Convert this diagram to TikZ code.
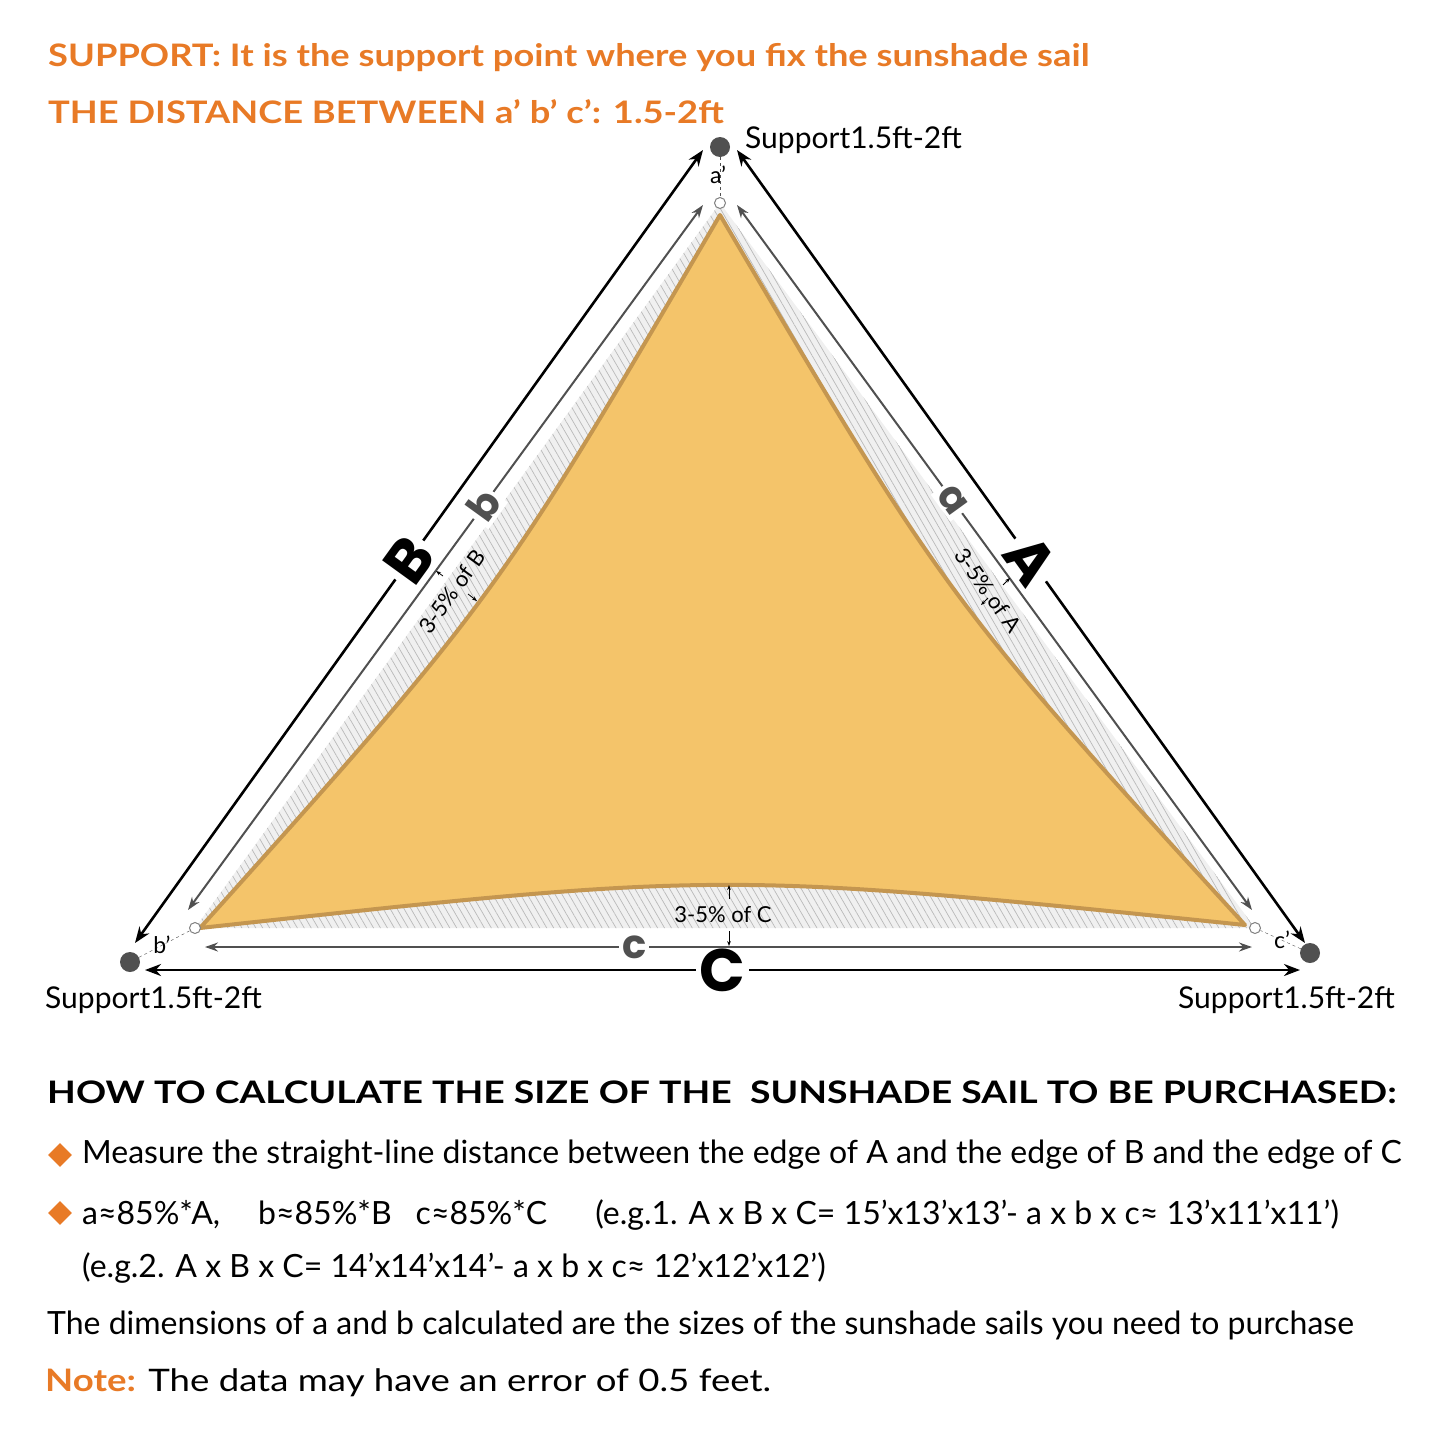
\documentclass[tikz,border=0pt]{standalone}
\usepackage{fontspec}
\setmainfont{Lato}
\newfontfamily\headfont{Poppins}
\usetikzlibrary{patterns.meta,shapes.geometric,arrows.meta}
\definecolor{sunorange}{RGB}{232,122,38}
\definecolor{sailfill}{RGB}{244,196,106}
\definecolor{sailedge}{RGB}{196,150,80}
\definecolor{darkdot}{RGB}{80,80,80}
\tikzset{
  bigarrow/.style={line width=2.6pt,{Stealth[length=16pt,width=12pt]}-{Stealth[length=16pt,width=12pt]}},
  smallarrow/.style={line width=2pt,darkdot,{Stealth[length=13pt,width=9pt]}-{Stealth[length=13pt,width=9pt]}},
  tinyarrow/.style={line width=0.8pt,-{Stealth[length=5pt]}},
  support/.style={circle,fill=darkdot,minimum size=20pt,inner sep=0pt},
  ring/.style={circle,draw=gray,fill=white,line width=1pt,minimum size=11pt,inner sep=0pt},
  biglabel/.style={fill=white,font=\headfont\bfseries\fontsize{60}{60}\selectfont,inner sep=4pt},
  midlabel/.style={fill=white,text=darkdot,font=\headfont\bfseries\fontsize{40}{40}\selectfont,inner sep=3pt},
  note/.style={font=\fontsize{22}{22}\selectfont,inner sep=1pt},
  textline/.style={anchor=west,font=\fontsize{32}{32}\selectfont,inner sep=0pt},
  headline/.style={anchor=west,font=\bfseries\fontsize{31}{31}\selectfont,inner sep=0pt,xscale=1.17},
  bullet/.style={diamond,fill=sunorange,minimum size=24pt,inner sep=0pt}
}
\begin{document}
\begin{tikzpicture}[x=1pt,y=-1pt]
\useasboundingbox (0,0) rectangle (1445,1445);
% headings
\node[headline,text=sunorange] (head1) at (48,58) {SUPPORT: It is the support point where you fix the sunshade sail};
\node[headline,text=sunorange] (head2) at (48,112) {THE DISTANCE BETWEEN a' b' c': 1.5-2ft};
% hatched band and sail
\fill[gray!12] (720,203) -- (195,928) -- (1255,928) -- cycle;
\fill[pattern={Lines[angle=-60,distance=6pt,line width=0.7pt]},pattern color=gray!55] (720,203) -- (195,928) -- (1255,928) -- cycle;
\filldraw[fill=sailfill,draw=sailedge,line width=4pt,line join=round]
  (720,215) .. controls (946,598) .. (1245,925)
  .. controls (722,871) .. (200,928)
  .. controls (496,598) .. cycle;
% supports and rings
\node[support] (sa) at (720,147) {};
\node[support] (sb) at (130,962) {};
\node[support] (sc) at (1310,953) {};
\node[ring] (ra) at (720,203) {};
\node[ring] (rb) at (195,928) {};
\node[ring] (rc) at (1255,928) {};
\draw[dashed,darkdot] (sa) -- (ra);
\draw[dashed,darkdot] (sb) -- (rb);
\draw[dashed,darkdot] (sc) -- (rc);
\node[font=\fontsize{23}{23}\selectfont] (la) at (718,175) {a'};
\node[font=\fontsize{23}{23}\selectfont] (lb) at (162,945) {b'};
\node[font=\fontsize{23}{23}\selectfont] (lc) at (1282,940) {c'};
\node[textline,font=\fontsize{30}{30}\selectfont] (tsa) at (745,140) {Support1.5ft-2ft};
\node[textline,font=\fontsize{30}{30}\selectfont] (tsb) at (45,1000) {Support1.5ft-2ft};
\node[textline,font=\fontsize{30}{30}\selectfont] (tsc) at (1178,1000) {Support1.5ft-2ft};
% outer arrows
\coordinate (ob1) at (135,943); \coordinate (ob2) at (703,150);
\coordinate (oa1) at (737,150); \coordinate (oa2) at (1305,943);
\coordinate (oc1) at (145,970); \coordinate (oc2) at (1300,970);
\draw[bigarrow] (ob1) -- node[biglabel,rotate=54.1,pos=0.483] (labB) {B} (ob2);
\draw[bigarrow] (oa1) -- node[biglabel,rotate=-54.1,pos=0.517] (labA) {A} (oa2);
\draw[bigarrow] (oc1) -- node[biglabel,pos=0.5] (labC) {C} (oc2);
% inner arrows
\coordinate (ib1) at (188,910); \coordinate (ib2) at (703,205);
\coordinate (ia1) at (737,205); \coordinate (ia2) at (1252,910);
\coordinate (ic1) at (205,947); \coordinate (ic2) at (1252,947);
\draw[smallarrow] (ib1) -- node[midlabel,rotate=54.1,pos=0.574] (labb) {b} (ib2);
\draw[smallarrow] (ia1) -- node[midlabel,rotate=-54.1,pos=0.418] (laba) {a} (ia2);
\draw[smallarrow] (ic1) -- node[midlabel,pos=0.41] (labc) {c} (ic2);
% 3-5% markers
\node[note,rotate=54.1] (pb) at (452,592) {3-5\% of B};
\node[note,rotate=-54.1] (pa) at (988,590) {3-5\% of A};
\node[note] (pc) at (723,915) {3-5\% of C};
\draw[tinyarrow] (443,576) -- (436,571);
\draw[tinyarrow] (468,594) -- (477,601);
\draw[tinyarrow] (1003,585) -- (1010,578);
\draw[tinyarrow] (988,598) -- (981,605);
\draw[tinyarrow] (729,899) -- (729,885);
\draw[tinyarrow] (729,931) -- (729,946);
% explanation
\node[headline,xscale=1.03] (calc) at (47,1092) {HOW TO CALCULATE THE SIZE OF THE\ \ SUNSHADE SAIL TO BE PURCHASED:};
\node[bullet] (d1) at (60,1155) {};
\node[textline] (meas) at (82,1155) {Measure the straight-line distance between the edge of A and the edge of B and the edge of C};
\node[bullet] (d2) at (60,1213) {};
\node[textline] (form) at (82,1215) {a≈85\%*A,\hspace{38pt}b≈85\%*B\hspace{24pt}c≈85\%*C\hspace{48pt}(e.g.1. A x B x C= 15'x13'x13'- a x b x c≈ 13'x11'x11')};
\node[textline] (eg2) at (82,1268) {(e.g.2. A x B x C= 14'x14'x14'- a x b x c≈ 12'x12'x12')};
\node[textline] (dims) at (47,1325) {The dimensions of a and b calculated are the sizes of the sunshade sails you need to purchase};
\node[textline,font=\fontsize{31}{31}\selectfont,xscale=1.18] (note) at (45,1383) {\textcolor{sunorange}{\bfseries Note:} The data may have an error of 0.5 feet.};
\end{tikzpicture}
\end{document}
